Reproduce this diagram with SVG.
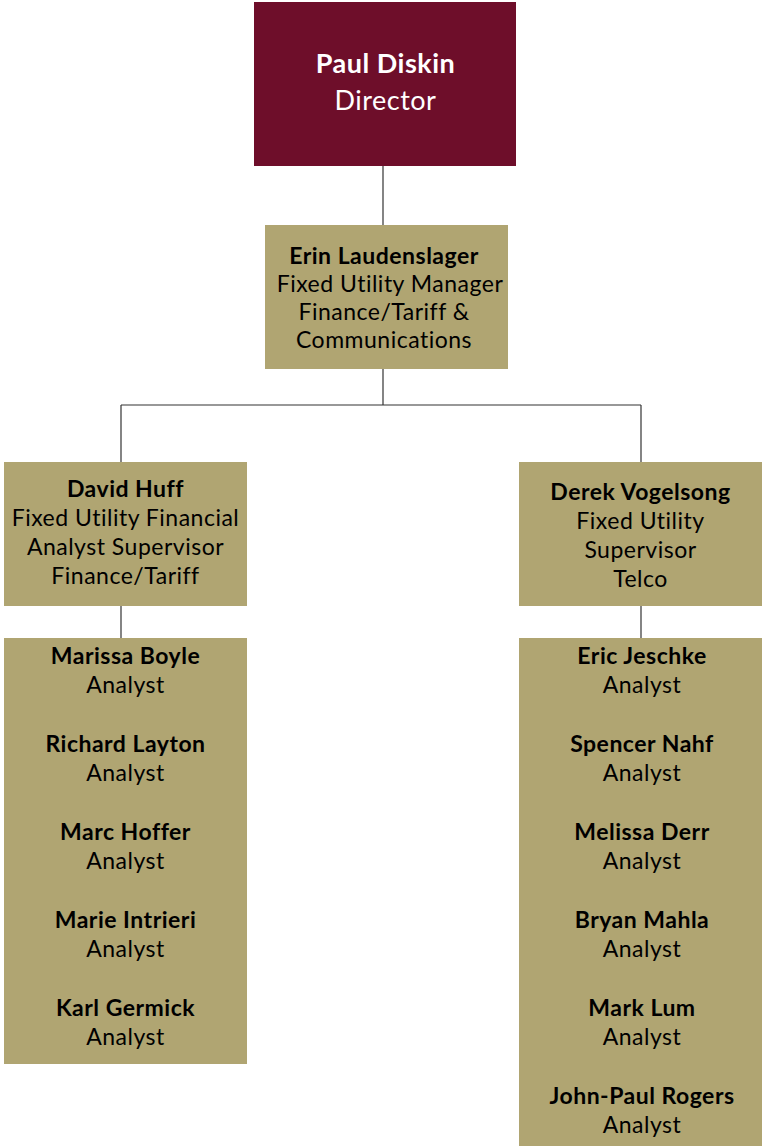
<svg xmlns="http://www.w3.org/2000/svg" width="762" height="1146" viewBox="0 0 762 1146">
<style>
text{font-family:Lato,"Open Sans","Liberation Sans",sans-serif;text-anchor:middle;fill:#000;letter-spacing:0.5px}
.b{font-weight:bold}
.t{font-size:23px}
.dir{fill:#6E0E2A}
.box{fill:#B0A572}
.w{fill:#fff;font-size:27px}
.conn line{stroke:#333;stroke-width:1.2}
</style>
<g class="conn" id="connectors">
<line x1="383" y1="166" x2="383" y2="225"/>
<line x1="383" y1="369" x2="383" y2="405"/>
<line x1="121" y1="405" x2="641" y2="405"/>
<line x1="121" y1="405" x2="121" y2="462"/>
<line x1="641" y1="405" x2="641" y2="462"/>
<line x1="121" y1="606" x2="121" y2="638"/>
<line x1="641" y1="606" x2="641" y2="638"/>
</g>
<g id="paul">
<rect class="dir" x="254" y="2" width="262" height="164"/>
<text class="w b" x="385.5" y="73">Paul Diskin</text>
<text class="w" x="385.5" y="110">Director</text>
</g>
<g id="erin" class="t">
<rect class="box" x="265" y="225" width="243" height="144"/>
<text class="b" x="384" y="264">Erin Laudenslager</text>
<text x="390" y="292">Fixed Utility Manager</text>
<text x="384" y="320">Finance/Tariff &amp;</text>
<text x="384" y="348">Communications</text>
</g>
<g id="david" class="t">
<rect class="box" x="4" y="462" width="243" height="144"/>
<text class="b" x="125.5" y="497">David Huff</text>
<text x="125.5" y="526">Fixed Utility Financial</text>
<text x="125.5" y="555">Analyst Supervisor</text>
<text x="125.5" y="584">Finance/Tariff</text>
</g>
<g id="derek" class="t">
<rect class="box" x="519" y="462" width="243" height="144"/>
<text class="b" x="640.5" y="500">Derek Vogelsong</text>
<text x="640.5" y="529">Fixed Utility</text>
<text x="640.5" y="558">Supervisor</text>
<text x="640.5" y="586.5">Telco</text>
</g>
<g id="left-analysts" class="t">
<rect class="box" x="4" y="638" width="243" height="426"/>
<text class="b" x="125.5" y="664">Marissa Boyle</text>
<text x="125.5" y="693">Analyst</text>
<text class="b" x="125.5" y="752">Richard Layton</text>
<text x="125.5" y="781">Analyst</text>
<text class="b" x="125.5" y="840">Marc Hoffer</text>
<text x="125.5" y="869">Analyst</text>
<text class="b" x="125.5" y="928">Marie Intrieri</text>
<text x="125.5" y="957">Analyst</text>
<text class="b" x="125.5" y="1016">Karl Germick</text>
<text x="125.5" y="1045">Analyst</text>
</g>
<g id="right-analysts" class="t">
<rect class="box" x="519" y="638" width="243" height="508"/>
<text class="b" x="642" y="664">Eric Jeschke</text>
<text x="642" y="693">Analyst</text>
<text class="b" x="642" y="752">Spencer Nahf</text>
<text x="642" y="781">Analyst</text>
<text class="b" x="642" y="840">Melissa Derr</text>
<text x="642" y="869">Analyst</text>
<text class="b" x="642" y="928">Bryan Mahla</text>
<text x="642" y="957">Analyst</text>
<text class="b" x="642" y="1016">Mark Lum</text>
<text x="642" y="1045">Analyst</text>
<text class="b" x="642" y="1104">John-Paul Rogers</text>
<text x="642" y="1133">Analyst</text>
</g>
</svg>
